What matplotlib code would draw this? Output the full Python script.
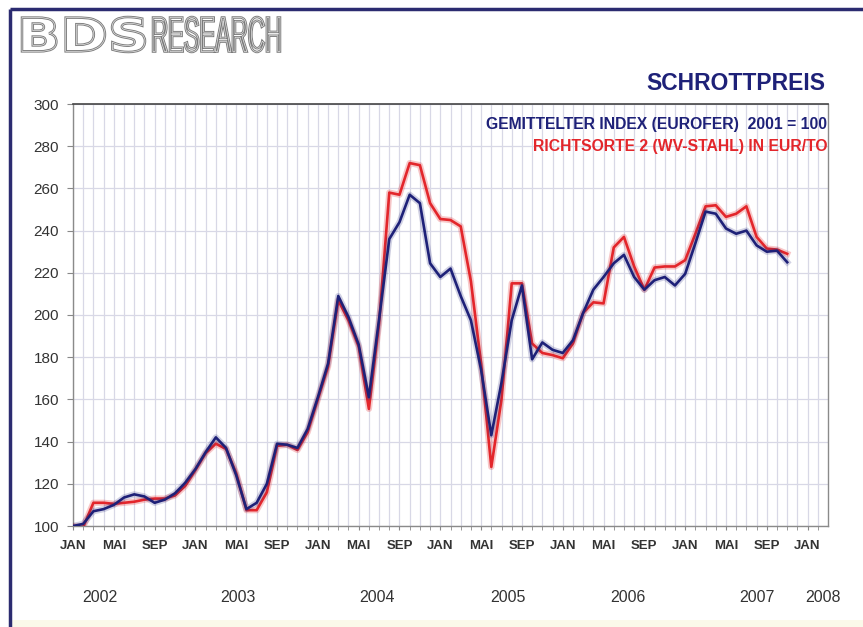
import matplotlib

matplotlib.use("Agg")
import matplotlib.pyplot as plt
import matplotlib.patheffects as pe
from matplotlib.font_manager import FontProperties
from matplotlib.patches import PathPatch
from matplotlib.textpath import TextPath
from matplotlib.transforms import Affine2D

# monthly values, Jan 2002 = month 0
months = list(range(71))
index_eurofer = [
    100, 101, 107, 108, 110, 113.5, 115, 114, 111, 112.5, 115.5, 120.5,
    127, 135, 142, 137, 124, 108, 111, 120, 139, 138.5, 137, 146,
    161, 177, 209, 199, 186, 161, 198, 236, 244, 257, 253, 224.5,
    218, 222, 209, 197.5, 174, 143, 168, 197.5, 214, 179, 187, 183.5,
    182, 188, 201, 212, 218, 224.5, 228.5, 218, 212, 216.5, 218, 214,
    219.5, 234, 249, 248, 241, 238.5, 240, 233, 230, 230.5, 225,
]
richtsorte2 = [
    100, 99.5, 111, 111, 110.5, 111, 111.5, 112.5, 113, 113, 114.5, 119,
    126.5, 134.5, 139, 136.5, 125, 107.5, 107.5, 116, 138, 138.5, 136, 144.5,
    160, 175.5, 207, 197.5, 185, 155.5, 196, 258, 257, 272, 271, 253,
    245.5, 245, 242, 216, 177, 128, 160, 215, 215, 186.5, 182, 181,
    179.5, 186.5, 201, 206, 205.5, 232, 237, 223, 212, 222.5, 223, 223,
    226, 238.5, 251.5, 252, 246.5, 248, 251.5, 237, 231.5, 231, 229,
]
month_labels = ["JAN", "MAI", "SEP"]
year_labels = ["2002", "2003", "2004", "2005", "2006", "2007", "2008"]
year_label_x = [100, 238, 377, 508, 628, 757, 823]  # pixel centres under the axis

W, H = 863, 627
NAVY = "#1e2178"
RED = "#e3262b"
GRID = "#d8d8e6"
TXT = "#333333"

plt.rcParams.update({
    "font.family": ["Liberation Sans", "DejaVu Sans"],
})

fig = plt.figure(figsize=(W / 100, H / 100), dpi=100)
fig.patch.set_facecolor("white")


def fx(x):
    return x / W


def fy(y):
    return 1 - y / H


ax = fig.add_axes([fx(73), fy(526), fx(828) - fx(73), fy(104) - fy(526)])
ax.set_xlim(0, 74)
ax.set_ylim(100, 300)

glow_red = [pe.Stroke(linewidth=4.5, foreground=RED, alpha=0.25), pe.Normal()]
glow_blue = [pe.Stroke(linewidth=4.5, foreground=NAVY, alpha=0.2), pe.Normal()]
ax.plot(months, richtsorte2, color=RED, lw=1.9, path_effects=glow_red, zorder=3)
ax.plot(months, index_eurofer, color=NAVY, lw=1.9, path_effects=glow_blue, zorder=4)

ax.set_xticks(range(0, 73, 4))
ax.set_xticklabels([month_labels[i % 3] for i in range(len(range(0, 73, 4)))])
ax.set_xticks(range(0, 74), minor=True)
ax.set_yticks(range(100, 301, 20))
ax.grid(True, which="both", axis="x", color=GRID, lw=0.9)
ax.grid(True, which="major", axis="y", color=GRID, lw=0.9)
ax.set_axisbelow(True)

ax.tick_params(axis="x", which="both", direction="out", length=3, color="#888888",
               labelsize=9.5, labelcolor=TXT, pad=7)
ax.tick_params(axis="y", direction="out", length=4, color="#888888",
               labelsize=11, labelcolor=TXT, pad=6)
for lab in ax.get_xticklabels():
    lab.set_fontweight("bold")
for side in ["left", "bottom", "right"]:
    ax.spines[side].set_color("#8a8a8a")
    ax.spines[side].set_linewidth(1.0)
ax.spines["top"].set_color("#444444")
ax.spines["top"].set_linewidth(1.2)

for label, x in zip(year_labels, year_label_x):
    fig.text(fx(x), fy(598), label, ha="center", va="center", fontsize=11.5, color=TXT)

fig.text(fx(825), fy(83), "SCHROTTPREIS", ha="right", va="center",
         fontsize=16.5, fontweight="bold", color=NAVY)
fig.text(fx(827), fy(125), "GEMITTELTER INDEX (EUROFER)  2001 = 100", ha="right",
         va="center", fontsize=11.3, fontweight="bold", color=NAVY)
fig.text(fx(827), fy(147), "RICHTSORTE 2 (WV-STAHL) IN EUR/TO", ha="right",
         va="center", fontsize=11.3, fontweight="bold", color=RED)

# outlined logo, drawn as scaled text paths on a full-figure overlay
over = fig.add_axes([0, 0, 1, 1], zorder=-1)
over.set_xlim(0, W)
over.set_ylim(0, H)
over.axis("off")


def logo_text(text, x0, y_bottom, width, height, family, weight):
    tp = TextPath((0, 0), text, size=1, prop=FontProperties(family=family, weight=weight))
    ext = tp.get_extents()
    tr = (Affine2D().translate(-ext.x0, -ext.y0)
          .scale(width / ext.width, height / ext.height)
          .translate(x0, H - y_bottom))
    path = tr.transform_path(tp)
    over.add_patch(PathPatch(path, facecolor="white", edgecolor="#7a7a7a", lw=1.8))
    over.add_patch(PathPatch(path, facecolor="none", edgecolor="#e6e6e6", lw=0.5))


logo_text("BDS", 22, 52, 123, 35, "DejaVu Sans", "bold")
logo_text("RESEARCH", 153, 52, 127, 35, "Liberation Sans", "normal")

# dark frame on the left and top
over.plot([10, 10], [0, H - 9], color="#2b2b70", lw=2.5, solid_capstyle="butt")
over.plot([10, W], [H - 9, H - 9], color="#2b2b70", lw=2.5, solid_capstyle="butt")
over.fill_between([11, W], 0, 7, color="#fbf9ea", lw=0)

fig.savefig("out.png", dpi=100)
